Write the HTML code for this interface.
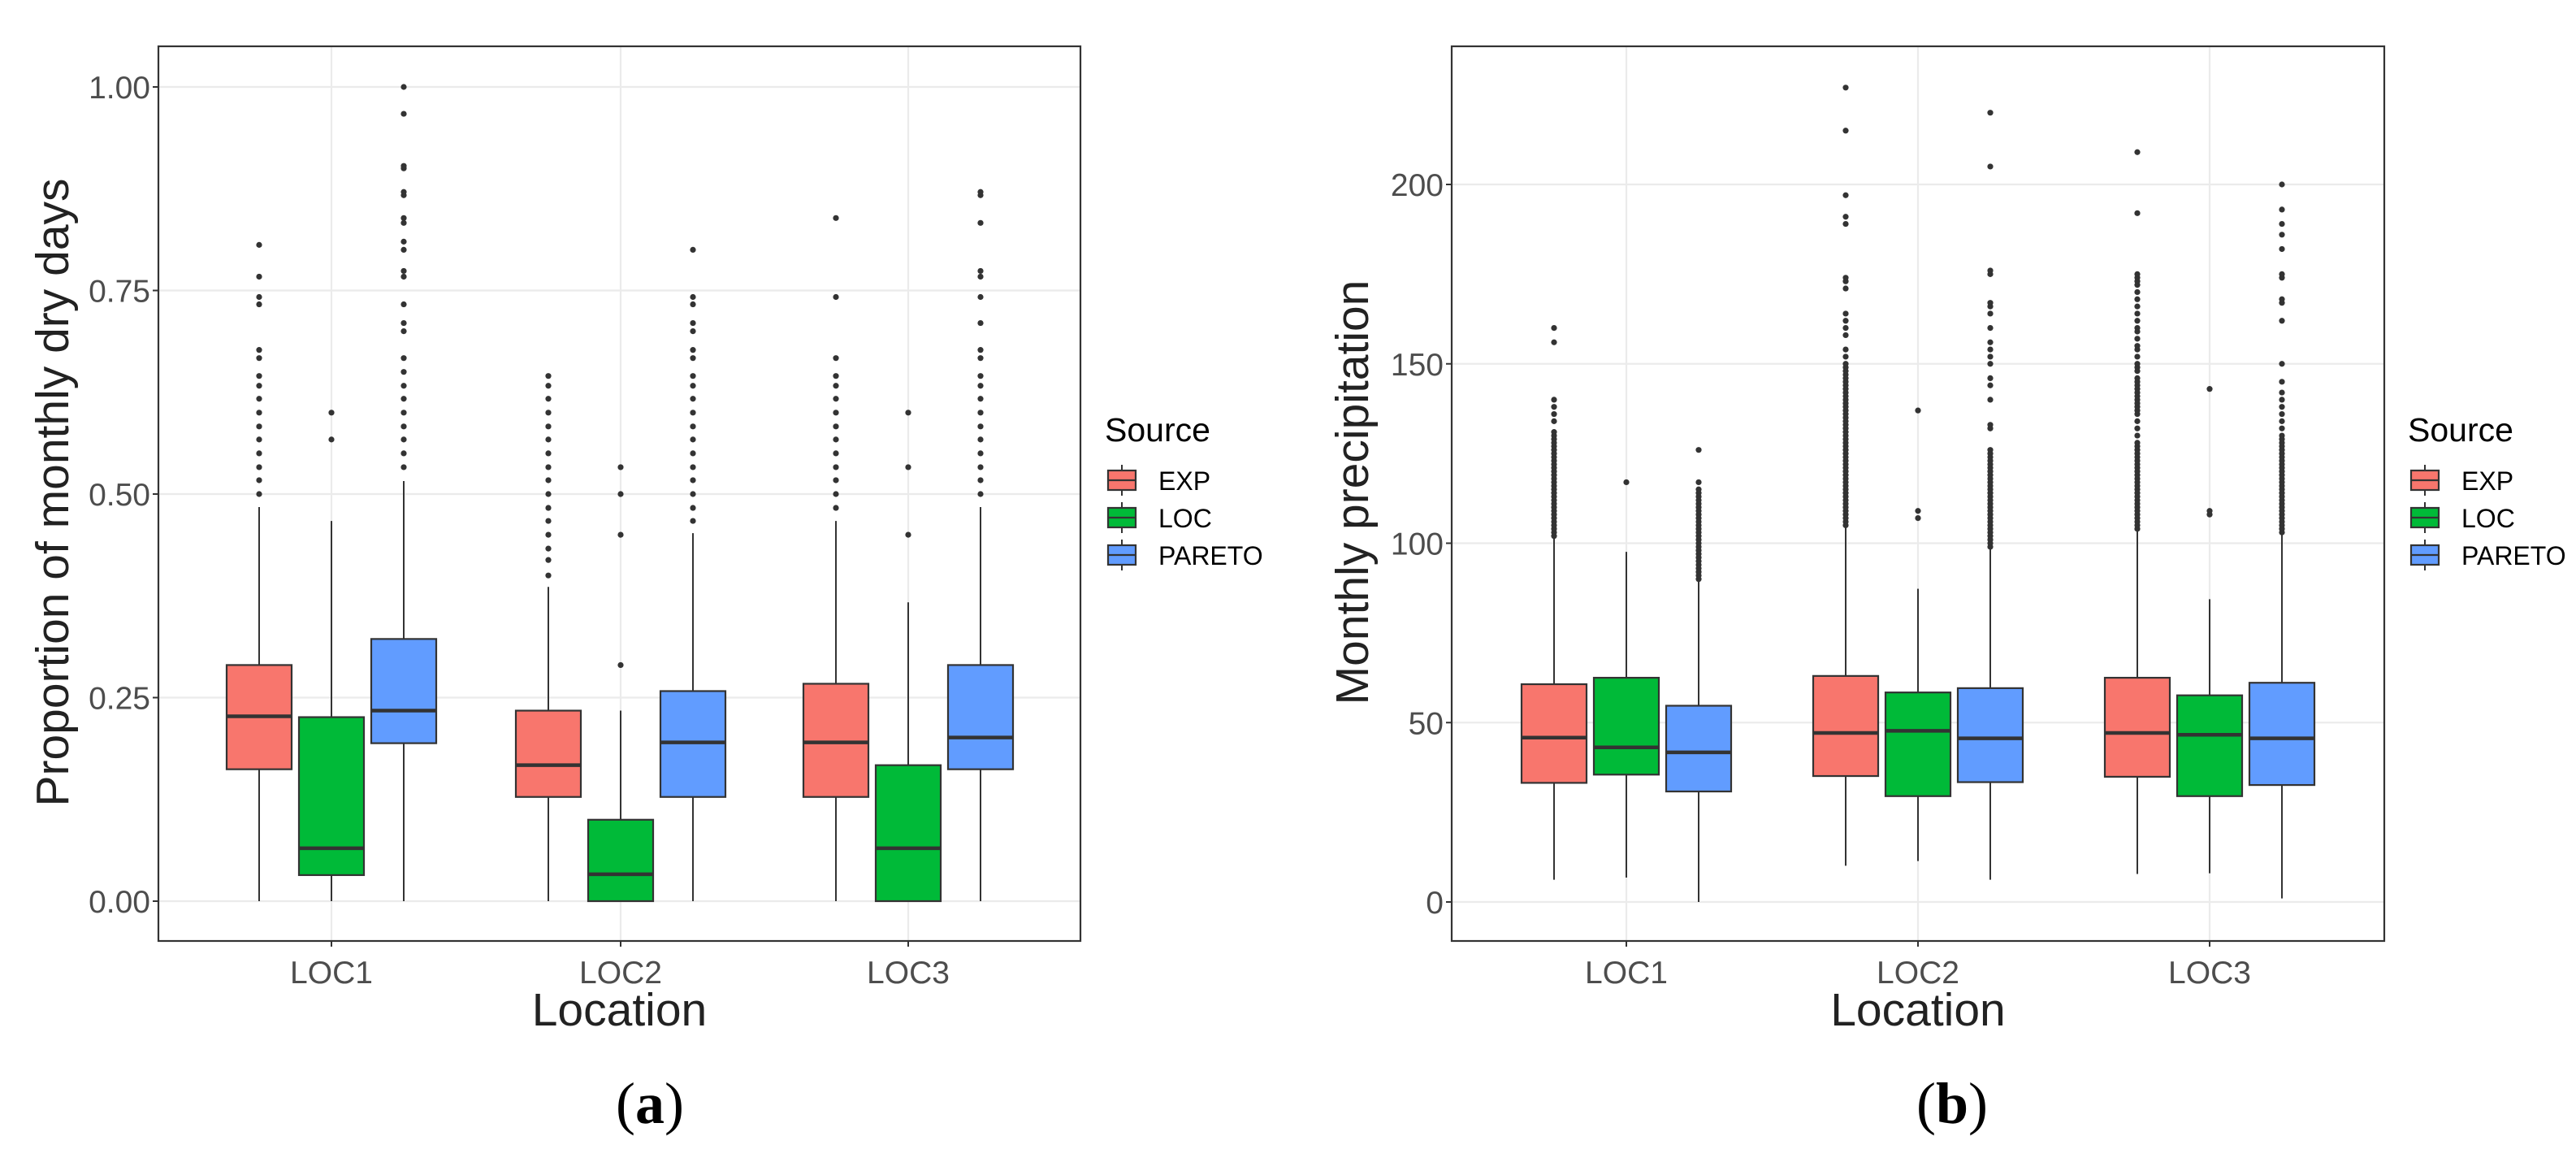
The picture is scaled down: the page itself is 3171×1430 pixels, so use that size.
<!DOCTYPE html>
<html><head><meta charset="utf-8">
<style>
html,body{margin:0;padding:0;background:#fff;}
svg{display:block;}
text{font-family:"Liberation Sans",sans-serif;}
text.cap{font-family:"Liberation Serif",serif;}
</style></head>
<body>
<svg id="chart" xmlns="http://www.w3.org/2000/svg" width="3171" height="1430" viewBox="0 0 3171 1430"></svg>
<script>
// ---------- data ----------
const categories = ["LOC1","LOC2","LOC3"];
const sources = ["EXP","LOC","PARETO"];
const colors = ["#F8766D","#00BA38","#619CFF"];

// panel a: [low, q1, median, q3, high] per location per source
const dryEXP    = [[0,0.162,0.227,0.290,0.484],[0,0.128,0.167,0.234,0.386],[0,0.128,0.195,0.267,0.467]];
const dryLOC    = [[0,0.032,0.065,0.226,0.467],[0,0,0.033,0.100,0.234],[0,0,0.065,0.167,0.367]];
const dryPARETO = [[0,0.194,0.234,0.322,0.516],[0,0.128,0.195,0.258,0.452],[0,0.162,0.201,0.290,0.484]];
const dryOutEXP = [
 [0.50,0.517,0.533,0.55,0.567,0.583,0.60,0.617,0.633,0.645,0.667,0.677,0.733,0.742,0.767,0.806],
 [0.40,0.419,0.433,0.45,0.467,0.483,0.50,0.517,0.533,0.55,0.567,0.583,0.60,0.617,0.633,0.645],
 [0.483,0.50,0.517,0.533,0.55,0.567,0.583,0.60,0.617,0.633,0.645,0.667,0.742,0.839]];
const dryOutLOC = [[0.567,0.60],[0.29,0.45,0.50,0.533],[0.45,0.533,0.60]];
const dryOutPARETO = [
 [0.533,0.55,0.567,0.583,0.60,0.617,0.633,0.65,0.667,0.70,0.71,0.733,0.767,0.774,0.80,0.81,0.833,0.839,0.867,0.871,0.90,0.903,0.967,1.0],
 [0.467,0.483,0.50,0.517,0.533,0.55,0.567,0.583,0.60,0.617,0.633,0.645,0.667,0.677,0.70,0.71,0.733,0.742,0.80],
 [0.50,0.517,0.533,0.55,0.567,0.583,0.60,0.617,0.633,0.645,0.667,0.677,0.71,0.742,0.767,0.774,0.833,0.867,0.871]];
const dryTicks = [0,0.25,0.5,0.75,1.0];
const dryTickLabels = ["0.00","0.25","0.50","0.75","1.00"];

// panel b
const prEXP    = [[6.2,33.2,45.8,60.7,102],[10.1,35.1,47.1,63.0,105],[7.8,34.9,47.1,62.5,104]];
const prLOC    = [[6.8,35.5,43.1,62.5,97.6],[11.4,29.5,47.7,58.4,87.3],[8.0,29.5,46.6,57.6,84.4]];
const prPARETO = [[0,30.8,41.7,54.7,90.4],[6.2,33.4,45.6,59.6,99],[1.0,32.6,45.6,61.1,103]];
const prOutEXP = [
 [102,103,104,105,106,107,108,109,110,111,112,113,114,115,116,117,118,119,120,121,122,123,124,125,126,127,128,129,130,131,134,136,138,140,156,160],
 [105,106,107,108,109,110,111,112,113,114,115,116,117,118,119,120,121,122,123,124,125,126,127,128,129,130,131,132,133,134,135,136,137,138,139,140,141,142,143,144,145,146,147,148,149,150,152,154,158,160,162,164,171,173,174,189,191,197,215,227],
 [104,105,106,107,108,109,110,111,112,113,114,115,116,117,118,119,120,121,122,123,124,125,126,127,128,130,132,134,136,137,138,139,140,141,142,143,144,145,146,148,149,150,152,154,155,157,159,160,162,164,166,168,170,172,173,174,175,192,209]];
const prOutLOC = [[117],[107,109,137],[108,109,143]];
const prOutPARETO = [
 [90,91,92,93,94,95,96,97,98,99,100,101,102,103,104,105,106,107,108,109,110,111,112,113,114,115,117,126],
 [99,100,101,102,103,104,105,106,107,108,109,110,111,112,113,114,115,116,117,118,119,120,121,122,123,124,125,126,132,133,140,144,146,150,152,154,156,160,164,166,167,175,176,205,220],
 [103,104,105,106,107,108,109,110,111,112,113,114,115,116,117,118,119,120,121,122,123,124,125,126,127,128,129,130,132,134,136,138,140,142,145,150,162,167,168,174,175,182,186,189,193,200]];
const prTicks = [0,50,100,150,200];
const prTickLabels = ["0","50","100","150","200"];

// ---------- drawing ----------
const NS = "http://www.w3.org/2000/svg";
const svg = document.getElementById("chart");
function mk(tag, attrs, parent){
  const e = document.createElementNS(NS, tag);
  for (const k in attrs) e.setAttribute(k, attrs[k]);
  (parent||svg).appendChild(e);
  return e;
}

function panel(cfg){
  const g = mk("g", {});
  
  
  const L=cfg.left, R=cfg.right, T=57, B=1158;
  const y = v => cfg.y0 - (v - 0) * cfg.ppu;
  const x = i => cfg.catX[i];
  cfg.ticks.forEach((t,i)=>{
    const ln = mk("line",{x1:L,x2:R,y1:y(t),y2:y(t),stroke:"#ebebeb","stroke-width":2.2},g);
    
    
  });
  categories.forEach((c,i)=>{
    const ln = mk("line",{x1:x(i),x2:x(i),y1:T,y2:B,stroke:"#ebebeb","stroke-width":2.2},g);
    
    
  });
  const off = 89, bw = 80;
  categories.forEach((c,i)=>{
    cfg.stats.forEach((st,s)=>{
      const d = st[i];
      const cx = x(i) + (s-1)*off;
      const bg = mk("g",{},g);
      
      
      mk("line",{x1:cx,x2:cx,y1:y(d[0]),y2:y(d[1]),stroke:"#333","stroke-width":2},bg);
      mk("line",{x1:cx,x2:cx,y1:y(d[3]),y2:y(d[4]),stroke:"#333","stroke-width":2},bg);
      mk("rect",{x:cx-bw/2,y:y(d[3]),width:bw,height:Math.max(0,y(d[1])-y(d[3])),fill:colors[s],stroke:"#333","stroke-width":2.2},bg);
      mk("line",{x1:cx-bw/2,x2:cx+bw/2,y1:y(d[2]),y2:y(d[2]),stroke:"#333","stroke-width":4.5},bg);
      cfg.outs[s][i].forEach(v=>{
        const p = mk("circle",{cx:cx,cy:y(v),r:3.6,fill:"#333"},bg);
        
        
      });
    });
  });
  const br = mk("rect",{x:L,y:T,width:R-L,height:B-T,fill:"none",stroke:"#333","stroke-width":2.2},g);
  
  
  cfg.ticks.forEach((t,i)=>{
    mk("line",{x1:L-7,x2:L,y1:y(t),y2:y(t),stroke:"#333","stroke-width":2},g);
    const tx = mk("text",{x:L-10,y:y(t)+14,"text-anchor":"end","font-size":39,fill:"#4d4d4d"},g);
    tx.textContent = cfg.tickLabels[i];
    
    
  });
  categories.forEach((c,i)=>{
    mk("line",{x1:x(i),x2:x(i),y1:B,y2:B+7,stroke:"#333","stroke-width":2},g);
    const tx = mk("text",{x:x(i),y:B+52,"text-anchor":"middle","font-size":39,fill:"#4d4d4d"},g);
    tx.textContent = c;
    
    
  });
  const xt = mk("text",{x:(L+R)/2,y:1262,"text-anchor":"middle","font-size":57,fill:"#222"},g);
  xt.textContent = "Location";
  
  
  const yt = mk("text",{x:0,y:0,"text-anchor":"middle","font-size":57,fill:"#222",transform:`translate(${cfg.ytX},606) rotate(-90)`},g);
  yt.textContent = cfg.ytitle;
  
  
  const lg = mk("g",{},g);
  
  
  const lx = cfg.legX;
  const lt = mk("text",{x:lx-4,y:543,"font-size":41,fill:"#000"},lg);
  lt.textContent = "Source";
  
  
  sources.forEach((s,k)=>{
    const cy = 591 + k*46;
    const e = mk("g",{},lg);
    
    
    mk("line",{x1:lx+17,x2:lx+17,y1:cy-19,y2:cy+19,stroke:"#333","stroke-width":2},e);
    mk("rect",{x:lx,y:cy-12,width:34,height:24,fill:colors[k],stroke:"#333","stroke-width":2.2},e);
    mk("line",{x1:lx,x2:lx+34,y1:cy,y2:cy,stroke:"#333","stroke-width":2.2},e);
    const t = mk("text",{x:lx+62,y:cy+12,"font-size":32,fill:"#000"},e);
    t.textContent = s;
  });
  const cap = mk("text",{x:cfg.capX,y:1382,"text-anchor":"middle","font-size":72,fill:"#000","class":"cap"},g);
  
  
  cap.appendChild(document.createTextNode("("));
  const b = mk("tspan",{"font-weight":"bold"},cap); b.textContent = cfg.cap;
  cap.appendChild(document.createTextNode(")"));
}

panel({name:"panel-a-dry-days", left:195, right:1330, y0:1109, ppu:1002,
  catX:[408,764,1118], stats:[dryEXP,dryLOC,dryPARETO], outs:[dryOutEXP,dryOutLOC,dryOutPARETO],
  ticks:dryTicks, tickLabels:dryTickLabels, ytitle:"Proportion of monthly dry days", ytX:84,
  legX:1364, capX:800, cap:"a"});
panel({name:"panel-b-precipitation", left:1787, right:2935, y0:1110, ppu:4.415,
  catX:[2002,2361,2720], stats:[prEXP,prLOC,prPARETO], outs:[prOutEXP,prOutLOC,prOutPARETO],
  ticks:prTicks, tickLabels:prTickLabels, ytitle:"Monthly precipitation", ytX:1684,
  legX:2968, capX:2403, cap:"b"});
</script>
</body></html>
